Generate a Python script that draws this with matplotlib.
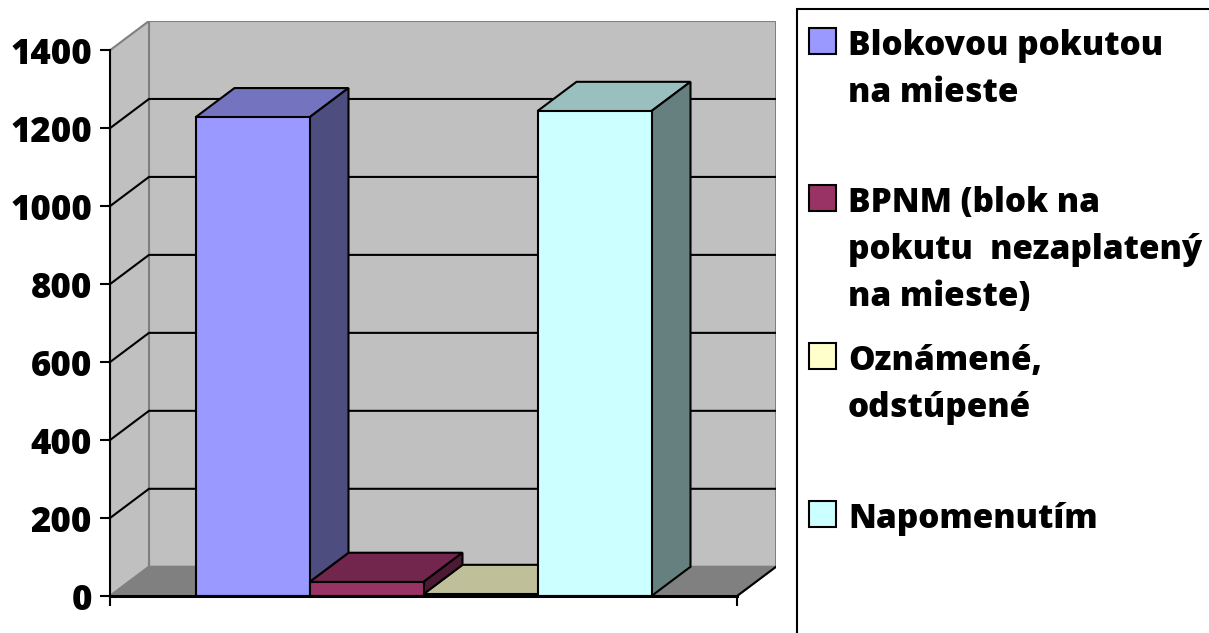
import matplotlib
matplotlib.use("Agg")
import matplotlib.pyplot as plt
from matplotlib.patches import Polygon, Rectangle

# ---- data ----
series_labels = ["Blokovou pokutou\nna mieste",
                 "BPNM (blok na\npokutu  nezaplatený\nna mieste)",
                 "Oznámené,\nodstúpené",
                 "Napomenutím"]
values = [1228, 36, 5, 1244]
y_ticks = [0, 200, 400, 600, 800, 1000, 1200, 1400]

front_colors = ["#9999FF", "#993366", "#FFFFCC", "#CCFFFF"]
top_colors = ["#7373BF", "#73264D", "#BFBF99", "#99BFBF"]
side_colors = ["#4D4D80", "#4D1A33", "#808066", "#668080"]

# ---- layout ----
W, H = 1209, 633
plt.rcParams["font.family"] = ["Open Sans", "DejaVu Sans"]
plt.rcParams["font.weight"] = 800
fig = plt.figure(figsize=(W / 100, H / 100), dpi=100)

GAP = 0.75
BW = 1.0
n = len(values)
XR = 2 * GAP + n * BW
DX = 0.342
DY = 75
YMAX = y_ticks[-1]

ax = fig.add_axes([110 / W, 37 / H, 666 / W, 575 / H])
ax.set_xlim(0, XR + DX)
ax.set_ylim(0, YMAX + DY)

wall = "#C0C0C0"
wall_edge = "#808080"
# back wall
ax.add_patch(Rectangle((DX, DY), XR, YMAX, fc=wall, ec=wall_edge, lw=1.5, zorder=1))
# side wall
ax.add_patch(Polygon([(0, 0), (DX, DY), (DX, YMAX + DY), (0, YMAX)],
                     closed=True, fc=wall, ec=wall_edge, lw=1.5, zorder=1))
# floor
ax.add_patch(Polygon([(0, 0), (XR, 0), (XR + DX, DY), (DX, DY)],
                     closed=True, fc="#808080", ec=wall_edge, lw=1.5, zorder=1.2))
ax.plot([XR, XR + DX], [0, DY], color="black", lw=1.5, zorder=1.3)

# gridlines
for t in y_ticks[1:-1]:
    ax.plot([0, DX, XR + DX], [t, t + DY, t + DY], color="black", lw=1.5,
            zorder=1.5, solid_joinstyle="miter")

# bars
ekw = dict(ec="black", lw=1.5, joinstyle="miter")
for i, h in enumerate(values):
    x0 = GAP + i * BW
    x1 = x0 + BW
    ax.add_patch(Polygon([(x0, h), (x1, h), (x1 + DX, h + DY), (x0 + DX, h + DY)],
                         closed=True, fc=top_colors[i], zorder=3, **ekw))
for i, h in enumerate(values):
    x1 = GAP + i * BW + BW
    lo = values[i + 1] if i + 1 < n else 0
    if lo < h:
        ax.add_patch(Polygon([(x1, lo), (x1 + DX, lo + DY), (x1 + DX, h + DY), (x1, h)],
                             closed=True, fc=side_colors[i], zorder=3.5, **ekw))
for i, h in enumerate(values):
    x0 = GAP + i * BW
    ax.add_patch(Rectangle((x0, 0), BW, h, fc=front_colors[i], zorder=4, **ekw))

# axes
for s in ["top", "right"]:
    ax.spines[s].set_visible(False)
ax.spines["left"].set_bounds(0, YMAX)
ax.spines["bottom"].set_bounds(0, XR)
ax.spines["left"].set_linewidth(1.5)
ax.spines["bottom"].set_linewidth(2.2)
ax.spines["left"].set_zorder(5)
ax.spines["bottom"].set_zorder(5)
ax.patch.set_visible(False)
ax.set_yticks(y_ticks)
ax.set_yticklabels([str(t) for t in y_ticks])
ax.set_xticks([0, XR])
ax.set_xticklabels([])
ax.tick_params(axis="y", length=7, width=1.5, labelsize=25, pad=6)
ax.tick_params(axis="x", length=7, width=1.5)
for lab in ax.get_yticklabels():
    lab.set_fontweight(800)

# legend (manual, Excel-like)
fig.add_artist(Rectangle((797 / W, -0.1), 1.0, 1 - 9 / H + 0.1,
                         transform=fig.transFigure, fc="white", ec="black", lw=1.5))
first_baselines = [55, 212, 370, 528]
line_step = 47
for k, lab in enumerate(series_labels):
    b = first_baselines[k]
    fig.add_artist(Rectangle((809 / W, 1 - (b - 1) / H), 27 / W, 26 / H,
                             transform=fig.transFigure, fc=front_colors[k],
                             ec="black", lw=1.5))
    for j, line in enumerate(lab.split("\n")):
        fig.text(848 / W, 1 - (b + j * line_step) / H, line, fontsize=24,
                 fontweight=800, va="baseline", ha="left")

fig.savefig("out.png", dpi=100)
